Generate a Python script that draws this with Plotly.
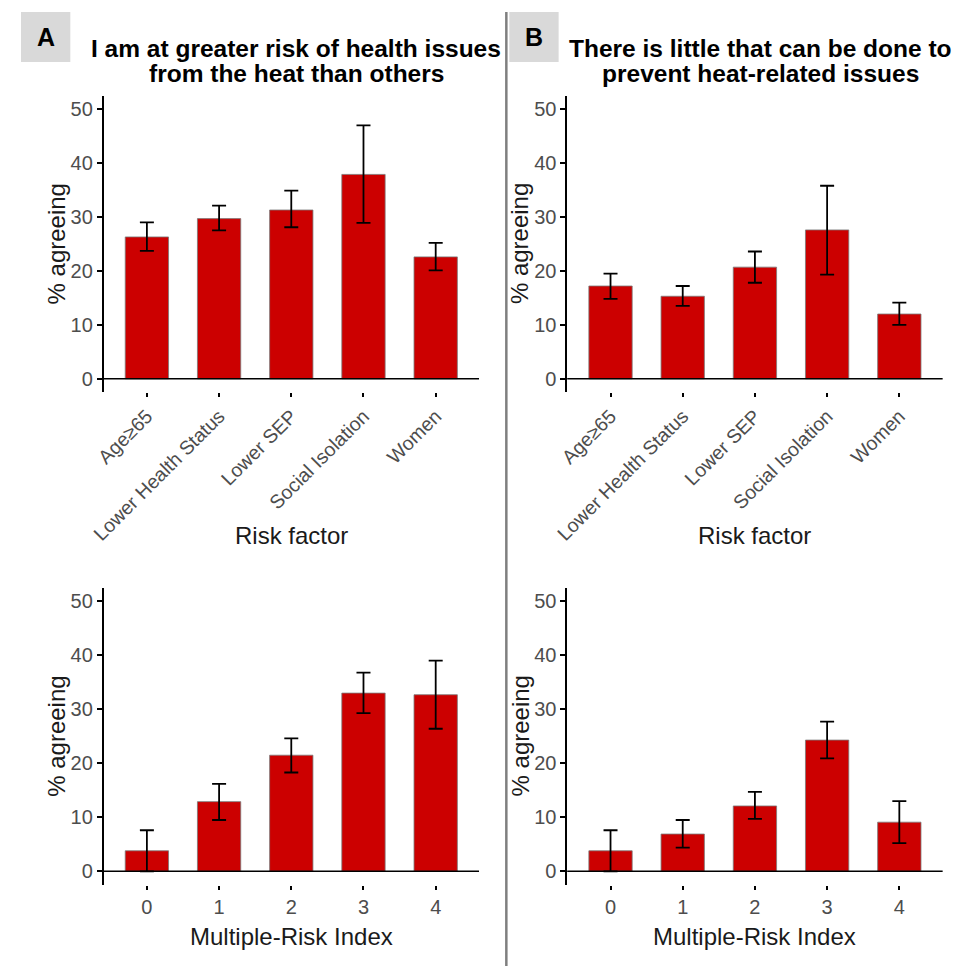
import plotly.graph_objects as go

# ---------------- data ----------------
risk_factors = ["Age≥65", "Lower Health Status", "Lower SEP", "Social Isolation", "Women"]
mri_levels = ["0", "1", "2", "3", "4"]

# Panel A (top): "I am at greater risk ..."
a_top_val = [26.3, 29.7, 31.3, 37.9, 22.6]
a_top_lo = [23.7, 27.5, 28.1, 28.9, 20.1]
a_top_hi = [29.0, 32.1, 34.9, 47.0, 25.2]

# Panel B (top): "There is little that can be done ..."
b_top_val = [17.2, 15.3, 20.7, 27.6, 12.0]
b_top_lo = [14.8, 13.5, 17.8, 19.3, 10.0]
b_top_hi = [19.5, 17.2, 23.6, 35.8, 14.1]

# Panel A (bottom): Multiple-Risk Index
a_bot_val = [3.8, 12.9, 21.5, 33.0, 32.7]
a_bot_lo = [0.0, 9.5, 18.3, 29.3, 26.4]
a_bot_hi = [7.6, 16.2, 24.6, 36.8, 39.0]

# Panel B (bottom): Multiple-Risk Index
b_bot_val = [3.8, 6.9, 12.1, 24.3, 9.1]
b_bot_lo = [0.0, 4.4, 9.7, 20.9, 5.2]
b_bot_hi = [7.6, 9.5, 14.7, 27.7, 13.0]

y_ticks = [0, 10, 20, 30, 40, 50]

title_a = ["I am at greater risk of health issues", "from the heat than others"]
title_b = ["There is little that can be done to", "prevent heat-related issues"]
y_title = "% agreeing"
x_title_top = "Risk factor"
x_title_bot = "Multiple-Risk Index"

# ---------------- layout helpers ----------------
W, H = 960, 966
OX, OY = -8, -8   # compensate page body margin
FONT = "Liberation Sans, Arial, sans-serif"
BAR = "#CC0000"
TICKC = "#4d4d4d"

def px_x(p):
    return (p + OX) / W

def px_y(p):
    return 1 - (p + OY) / H

panels = [
    (1, risk_factors, a_top_val, a_top_lo, a_top_hi, (91.7, 472.3), (95.7, 392.2), True),
    (2, risk_factors, b_top_val, b_top_lo, b_top_hi, (561.7, 942.3), (95.7, 392.2), True),
    (3, mri_levels, a_bot_val, a_bot_lo, a_bot_hi, (91.7, 472.3), (587.8, 884.8), False),
    (4, mri_levels, b_bot_val, b_bot_lo, b_bot_hi, (561.7, 942.3), (587.8, 884.8), False),
]

fig = go.Figure()
layout = dict(
    width=W, height=H,
    margin=dict(l=0, r=0, t=0, b=0),
    paper_bgcolor="white", plot_bgcolor="white",
    showlegend=False,
    font=dict(family=FONT, color="black"),
)
shapes = []
annotations = []

for idx, cats, vals, lo, hi, xd, yd, rot in panels:
    xa = "x" if idx == 1 else f"x{idx}"
    ya = "y" if idx == 1 else f"y{idx}"
    fig.add_trace(go.Bar(
        x=cats, y=vals, xaxis=xa, yaxis=ya, width=0.6,
        marker=dict(color=BAR, line=dict(color="#7a7a7a", width=0.8)),
        error_y=dict(type="data", symmetric=False,
                     array=[h - v for h, v in zip(hi, vals)],
                     arrayminus=[v - l for v, l in zip(vals, lo)],
                     color="black", thickness=1.8, width=7),
    ))
    xk = "xaxis" if idx == 1 else f"xaxis{idx}"
    yk = "yaxis" if idx == 1 else f"yaxis{idx}"
    layout[xk] = dict(
        domain=[px_x(xd[0]), px_x(xd[1])], anchor=ya,
        type="category", categoryorder="array", categoryarray=cats,
        range=[-0.6, 4.6], showline=False, showgrid=False, zeroline=False,
        ticks="outside", ticklen=4, tickwidth=1.5, tickcolor="black",
        tickangle=-45 if rot else 0,
        tickfont=dict(family=FONT, size=19.5 if rot else 20, color=TICKC),
        fixedrange=True,
    )
    layout[yk] = dict(
        domain=[px_y(yd[1]), px_y(yd[0])], anchor=xa,
        range=[-2.5, 52.5], tickvals=y_ticks,
        showline=True, linecolor="black", linewidth=1.5, mirror=False,
        showgrid=False, zeroline=False,
        ticks="outside", ticklen=5, tickwidth=1.5, tickcolor="black",
        tickfont=dict(family=FONT, size=20, color=TICKC),
        fixedrange=True,
    )
    shapes.append(dict(type="line", xref=f"{xa} domain", yref=ya,
                       x0=0, x1=1, y0=0, y1=0,
                       line=dict(color="black", width=1.5)))
    annotations.append(dict(
        text=y_title, xref="paper", yref="paper",
        x=px_x(xd[0] - 47.7), y=px_y((yd[0] + yd[1]) / 2),
        textangle=-90, showarrow=False, xanchor="center", yanchor="middle",
        font=dict(family=FONT, size=24, color="#1a1a1a"),
    ))
    xcen = (xd[0] + xd[1]) / 2
    annotations.append(dict(
        text=x_title_top if rot else x_title_bot, xref="paper", yref="paper",
        x=px_x(xcen), y=px_y(535 if rot else 936),
        showarrow=False, xanchor="center", yanchor="middle",
        font=dict(family=FONT, size=24, color="#1a1a1a"),
    ))

for lines, xc in ((title_a, 287), (title_b, 758)):
    for i, t in enumerate(lines):
        annotations.append(dict(
            text=f"<b>{t}</b>", xref="paper", yref="paper",
            x=px_x(xc), y=px_y(48 + 25 * i),
            showarrow=False, xanchor="center", yanchor="middle",
            font=dict(family=FONT, size=24.5, color="black"),
        ))

for lab, x0 in (("A", 8), ("B", 503)):
    shapes.append(dict(type="rect", xref="paper", yref="paper",
                       x0=px_x(x0), x1=px_x(x0 + 50), y0=px_y(62), y1=px_y(12),
                       fillcolor="#d9d9d9", line=dict(width=0), layer="below"))
    annotations.append(dict(
        text=f"<b>{lab}</b>", xref="paper", yref="paper",
        x=px_x(x0 + 25), y=px_y(37), showarrow=False,
        xanchor="center", yanchor="middle",
        font=dict(family=FONT, size=25, color="black"),
    ))

shapes.append(dict(type="line", xref="paper", yref="paper",
                   x0=px_x(500), x1=px_x(500), y0=0, y1=px_y(12),
                   line=dict(color="#7f7f7f", width=2.5)))

layout["shapes"] = shapes
layout["annotations"] = annotations
fig.update_layout(**layout)

fig.write_html("out.html")
